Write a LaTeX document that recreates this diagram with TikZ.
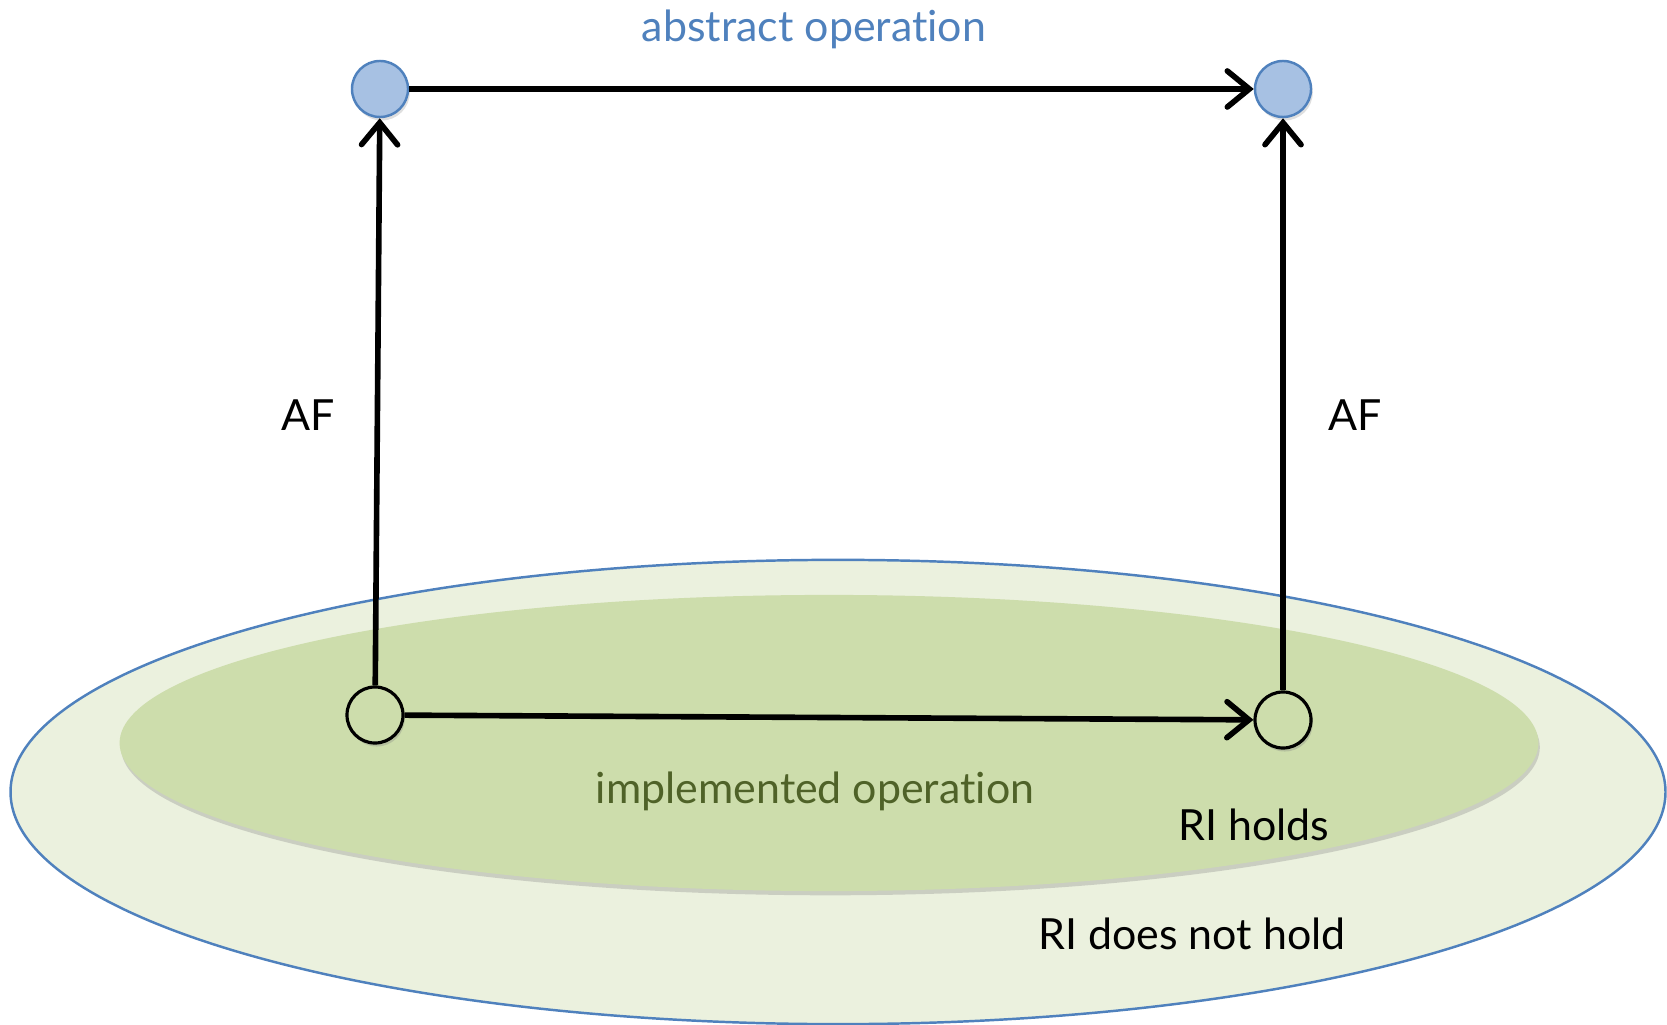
\documentclass[tikz,border=0pt]{standalone}
\usepackage{fontspec}
\setmainfont{Lato}[RawFeature={-liga}]
\usetikzlibrary{arrows.meta,shapes.geometric,shadows}

\definecolor{absblue}{RGB}{79,129,189}
\definecolor{absfill}{RGB}{167,193,227}
\definecolor{outerfill}{RGB}{235,241,222}
\definecolor{innerfill}{RGB}{205,221,172}
\definecolor{implgreen}{RGB}{79,98,40}

\begin{document}
\begin{tikzpicture}
        [x=0.01cm, y=-0.01cm, >={Straight Barb[length=2.2mm, width=3.6mm, line cap=round]},
         state/.style={circle, minimum size=5.6mm, inner sep=0pt},
         label/.style={font=\fontsize{12.2}{14}\selectfont}]

        \useasboundingbox (0, 0) rectangle (1667, 1025);

        % regions of the representation space
        \node[ellipse, draw=absblue, line width=0.7pt, fill=outerfill,
              minimum width=16.54cm, minimum height=4.64cm] (outer) at (838, 792) {};
        \node[ellipse, fill=innerfill, drop shadow={opacity=0.3, shadow xshift=0.4pt, shadow yshift=-1.2pt},
              minimum width=14.18cm, minimum height=2.96cm] (inner) at (829, 743) {};

        % abstract values
        \node[state, draw=absblue, fill=absfill, line width=0.7pt,
              drop shadow={opacity=0.25, shadow xshift=0.5pt, shadow yshift=-1pt}] (abs-1) at (380, 89) {};
        \node[state, draw=absblue, fill=absfill, line width=0.7pt,
              drop shadow={opacity=0.25, shadow xshift=0.5pt, shadow yshift=-1pt}] (abs-2) at (1283, 89) {};

        % concrete values
        \node[state, draw=black, fill=innerfill, line width=0.9pt,
              drop shadow={opacity=0.3, shadow xshift=0.5pt, shadow yshift=-1pt}] (rep-1) at (375, 715) {};
        \node[state, draw=black, fill=innerfill, line width=0.9pt,
              drop shadow={opacity=0.3, shadow xshift=0.5pt, shadow yshift=-1pt}] (rep-2) at (1283, 720) {};

        \draw[->, line width=1.6pt] (abs-1) -- (abs-2);
        \draw[->, line width=1.6pt] (rep-1) -- (rep-2);
        \draw[->, line width=1.6pt] (rep-1) -- (abs-1);
        \draw[->, line width=1.6pt] (rep-2) -- (abs-2);

        \node[label, text=absblue] (abs-op) at (814, 29) {abstract operation};
        \node[label] (af-1) at (308, 415) {AF};
        \node[label] (af-2) at (1355, 415) {AF};
        \node[label, text=implgreen] (impl-op) at (815, 791) {implemented operation};
        \node[label] (ri-in) at (1254, 825) {RI holds};
        \node[label] (ri-out) at (1192, 934) {RI does not hold};

    \end{tikzpicture}
\end{document}
